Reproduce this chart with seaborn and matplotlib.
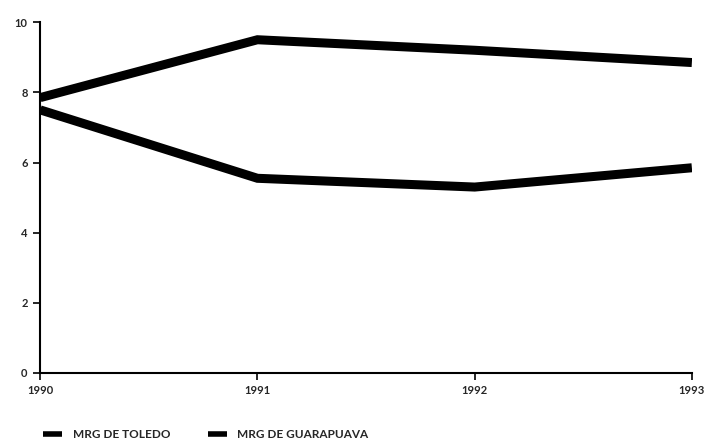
import pandas as pd
import matplotlib
matplotlib.use("Agg")
import matplotlib.pyplot as plt
import seaborn as sns

years = [1990, 1991, 1992, 1993]
toledo = [7.85, 9.5, 9.2, 8.85]
guarapuava = [7.5, 5.55, 5.3, 5.85]
series_names = ["MRG DE TOLEDO", "MRG DE GUARAPUAVA"]
y_ticks = [0, 2, 4, 6, 8, 10]

df = pd.DataFrame({
    "ano": years * 2,
    "valor": toledo + guarapuava,
    "serie": [series_names[0]] * len(years) + [series_names[1]] * len(years),
})

sns.set_theme(style="ticks")
plt.rcParams["font.family"] = ["Lato", "DejaVu Sans"]
plt.rcParams["font.weight"] = "bold"

fig = plt.figure(figsize=(7.06, 4.44), dpi=100)
ax = fig.add_axes([0.057, 0.16, 0.923, 0.79])

sns.lineplot(data=df, x="ano", y="valor", hue="serie",
             palette=["black", "black"], linewidth=6.5, ax=ax,
             solid_joinstyle="miter", solid_capstyle="butt")

ax.set_xlim(1990, 1993)
ax.set_ylim(0, 10)
ax.set_xticks(years)
ax.set_xticklabels([str(y) for y in years], fontsize=8, fontweight="bold")
ax.set_yticks(y_ticks)
ax.set_yticklabels([str(t) for t in y_ticks], fontsize=8, fontweight="bold")
ax.tick_params(axis="both", length=5, width=1.2, color="black", pad=4)
ax.set_xlabel("")
ax.set_ylabel("")
sns.despine(ax=ax)
for side in ["left", "bottom"]:
    ax.spines[side].set_linewidth(1.5)
    ax.spines[side].set_color("black")

leg = ax.legend(loc="center left", bbox_to_anchor=(-0.012, -0.175), ncol=2,
                frameon=False, fontsize=8.5, handlelength=1.6,
                columnspacing=3.2, handletextpad=0.9)
for line in leg.get_lines():
    line.set_linewidth(4)
for t in leg.get_texts():
    t.set_fontweight("bold")

fig.savefig("out.png", dpi=100)
